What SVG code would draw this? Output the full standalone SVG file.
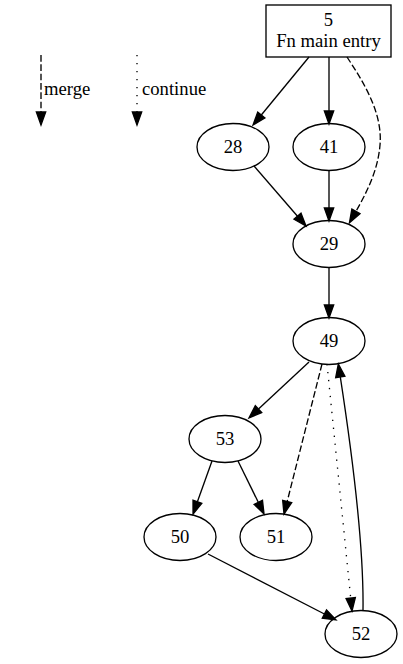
<svg xmlns="http://www.w3.org/2000/svg" width="403" height="664" viewBox="0 0 403 664" font-family="'Liberation Serif', 'Times New Roman', 'DejaVu Serif', serif">
<style>
  text { font-family: "Liberation Serif", "Times New Roman", "DejaVu Serif", serif; font-size: 18.67px; fill: #000; }
  .node ellipse, .node rect { fill: none; stroke: #000; stroke-width: 1.33; }
  .edge { fill: none; stroke: #000; stroke-width: 1.33; }
  .dashed { stroke-dasharray: 6.67 2.67; }
  .dotted { stroke-dasharray: 1.33 6.67; }
</style>
<defs>
  <marker id="arrow" markerUnits="userSpaceOnUse" markerWidth="14" markerHeight="10" refX="0" refY="4.67" orient="auto" overflow="visible">
    <path d="M0,0 L13,4.67 L0,9.33 Z" fill="#000" stroke="#000" stroke-width="1.33" stroke-linejoin="miter"/>
  </marker>
</defs>
<rect width="403" height="664" fill="#fff"/>

<g id="legend">
  <path class="edge dashed" d="M41,55 L41,112" marker-end="url(#arrow)"/>
  <text x="44" y="95" font-family="Liberation Serif, serif">merge</text>
  <path class="edge dotted" d="M137,55 L137,112" marker-end="url(#arrow)"/>
  <text x="142" y="95" font-family="Liberation Serif, serif">continue</text>
</g>

<g id="connectors">
  <path class="edge" d="M309,57 L261.3,115" marker-end="url(#arrow)"/>
  <path class="edge" d="M329,57 L329,111" marker-end="url(#arrow)"/>
  <path class="edge dashed" d="M347,57 C362,80 383,112 380,145 C378,170 367,192 355.9,211.4" marker-end="url(#arrow)"/>
  <path class="edge" d="M254,166 L297.5,216.2" marker-end="url(#arrow)"/>
  <path class="edge" d="M329,170 L329,208" marker-end="url(#arrow)"/>
  <path class="edge" d="M329,268 L329,305" marker-end="url(#arrow)"/>
  <path class="edge" d="M309,362 L258.5,409.1" marker-end="url(#arrow)"/>
  <path class="edge dashed" d="M322,364 L287.2,501.4" marker-end="url(#arrow)"/>
  <path class="edge dotted" d="M327,364 L350.7,598.1" marker-end="url(#arrow)"/>
  <path class="edge" d="M363,610 C364,540 350,440 340.3,376.9" marker-end="url(#arrow)"/>
  <path class="edge" d="M212,461 L197.4,501.8" marker-end="url(#arrow)"/>
  <path class="edge" d="M238,461 L258.3,502.3" marker-end="url(#arrow)"/>
  <path class="edge" d="M208,554 L324.4,614" marker-end="url(#arrow)"/>
</g>

<g id="node5" class="node">
  <rect x="266" y="5" width="125" height="52"/>
  <text x="328.5" y="26" text-anchor="middle">5</text>
  <text x="328.5" y="47" text-anchor="middle">Fn main entry</text>
</g>
<g id="node28" class="node">
  <ellipse cx="233" cy="147" rx="36" ry="23.5"/>
  <text x="233" y="153" text-anchor="middle">28</text>
</g>
<g id="node41" class="node">
  <ellipse cx="329" cy="147" rx="36" ry="23.5"/>
  <text x="329" y="153" text-anchor="middle">41</text>
</g>
<g id="node29" class="node">
  <ellipse cx="329" cy="244" rx="36" ry="23.5"/>
  <text x="329" y="250" text-anchor="middle">29</text>
</g>
<g id="node49" class="node">
  <ellipse cx="329" cy="341" rx="36" ry="23.5"/>
  <text x="329" y="347" text-anchor="middle">49</text>
</g>
<g id="node53" class="node">
  <ellipse cx="225" cy="439" rx="36" ry="23.5"/>
  <text x="225" y="445" text-anchor="middle">53</text>
</g>
<g id="node50" class="node">
  <ellipse cx="180" cy="537" rx="36" ry="23.5"/>
  <text x="180" y="543" text-anchor="middle">50</text>
</g>
<g id="node51" class="node">
  <ellipse cx="276" cy="537" rx="36" ry="23.5"/>
  <text x="276" y="543" text-anchor="middle">51</text>
</g>
<g id="node52" class="node">
  <ellipse cx="361" cy="634" rx="36" ry="23.5"/>
  <text x="361" y="640" text-anchor="middle">52</text>
</g>
</svg>
